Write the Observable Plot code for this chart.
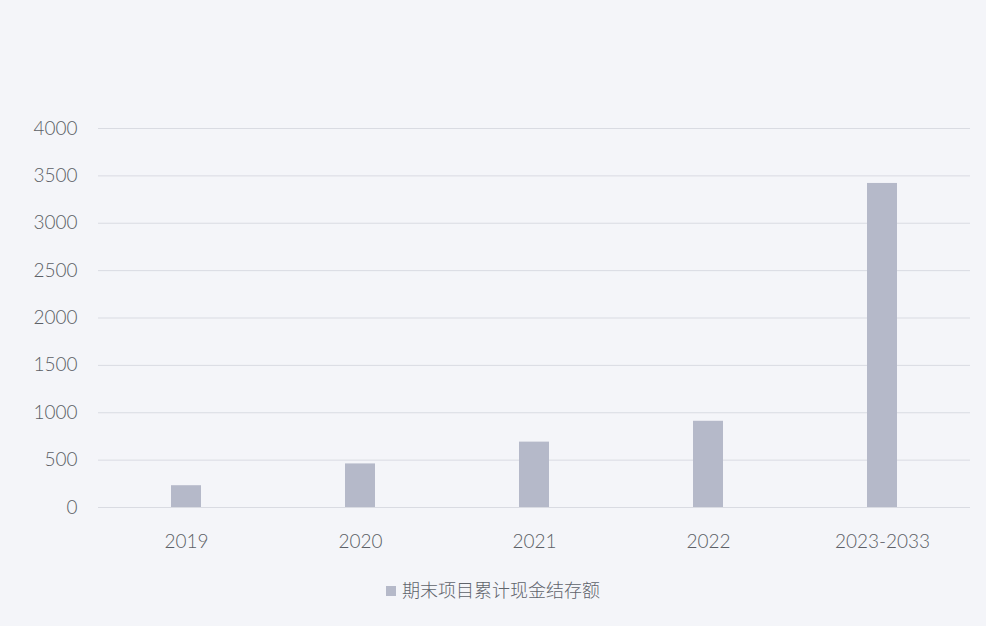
<!DOCTYPE html>
<html>
<head>
<meta charset="utf-8">
<script src="https://cdn.jsdelivr.net/npm/d3@7"></script>
<script src="https://cdn.jsdelivr.net/npm/@observablehq/plot@0.6"></script>
<style>
  html, body { margin: 0; padding: 0; background: #f4f5f9; }
  #chart { width: 986px; height: 626px; position: relative; }
  #legend { position: absolute; left: 0; top: 576px; width: 986px; text-align: center;
    font-family: "Noto Sans CJK SC", sans-serif; font-size: 18px; color: #5f636b; font-weight: 300; }
  #legend .sw { display: inline-block; width: 10px; height: 10px; background: #b5b9c9; margin-right: 6px; vertical-align: 1px; }
</style>
</head>
<body>
<div id="chart"></div>
<script>
const categories = ["2019", "2020", "2021", "2022", "2023-2033"];
const values = [230, 460, 690, 910, 3420];
const yTicks = [0, 500, 1000, 1500, 2000, 2500, 3000, 3500, 4000];
const seriesName = "期末项目累计现金结存额";

const data = categories.map((c, i) => ({category: c, value: values[i]}));

const plot = Plot.plot({
  width: 986,
  height: 560,
  marginLeft: 98,
  marginRight: 16,
  marginTop: 128,
  marginBottom: 53,
  style: {background: "transparent", fontFamily: "Lato, 'Open Sans', sans-serif", fontSize: "19px", color: "#5c5f66"},
  x: {domain: categories, paddingInner: 0.83, paddingOuter: 0.415, label: null},
  y: {domain: [0, 4000], label: null},
  marks: [
    Plot.gridY(yTicks, {stroke: "#d9dbe2", strokeOpacity: 1, strokeWidth: 1}),
    Plot.barY(data, {x: "category", y: "value", fill: "#b5b9c9"}),
    Plot.axisX({tickSize: 0, tickPadding: 27, fontSize: 19, fontWeight: 300}),
    Plot.axisY(yTicks, {tickSize: 0, tickPadding: 21, fontSize: 19, fontWeight: 300, tickFormat: d3.format("d")})
  ]
});
document.getElementById("chart").appendChild(plot);
const lg = document.createElement("div");
lg.id = "legend";
lg.innerHTML = '<span class="sw"></span>' + seriesName;
document.getElementById("chart").appendChild(lg);
</script>
</body>
</html>
